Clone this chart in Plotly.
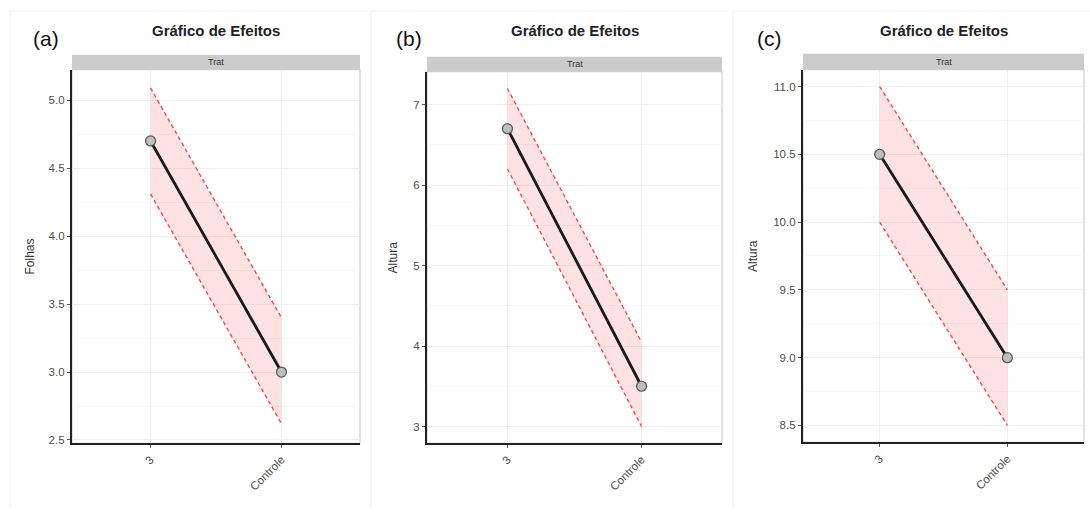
import plotly.graph_objects as go

W, H = 1090, 513

# ---- data ----
categories = ["3", "Controle"]

folhas_mean = [4.7, 3.0]
folhas_lower = [4.31, 2.62]
folhas_upper = [5.09, 3.40]

altura_b_mean = [6.7, 3.5]
altura_b_lower = [6.2, 3.0]
altura_b_upper = [7.2, 4.05]

altura_c_mean = [10.5, 9.0]
altura_c_lower = [10.0, 8.5]
altura_c_upper = [11.0, 9.5]

panel_labels = ["(a)", "(b)", "(c)"]
y_titles = ["Folhas", "Altura", "Altura"]
title_text = "Gráfico de Efeitos"
strip_text = "Trat"

y_ranges = [[2.475, 5.225], [2.79, 7.41], [8.375, 11.125]]
y_dticks = [0.5, 1.0, 0.5]
y_formats = [".1f", "d", ".1f"]

# ---- layout geometry (pixels) ----
panels = [
    dict(x0=72, x1=360, y0=70, y1=446, st=55, lab_x=46, ytitle_x=30, frame=10),
    dict(x0=427, x1=722, y0=72, y1=446, st=57, lab_x=409, ytitle_x=393, frame=371),
    dict(x0=803, x1=1084, y0=70, y1=445, st=54, lab_x=769, ytitle_x=753, frame=733),
]

def px(x):
    return x / W

def py(y):
    return 1 - y / H

series = [
    (folhas_mean, folhas_lower, folhas_upper),
    (altura_b_mean, altura_b_lower, altura_b_upper),
    (altura_c_mean, altura_c_lower, altura_c_upper),
]

fig = go.Figure()
shapes = []
annotations = []
layout_axes = {}

for i, (p, (m, lo, up)) in enumerate(zip(panels, series)):
    n = "" if i == 0 else str(i + 1)
    xa, ya = "x" + n, "y" + n
    fig.add_trace(go.Scatter(x=categories, y=up, xaxis=xa, yaxis=ya, mode="lines",
                             line=dict(color="rgba(255,40,40,0.85)", width=1.4, dash="4px,3px"),
                             showlegend=False, hoverinfo="skip"))
    fig.add_trace(go.Scatter(x=categories, y=lo, xaxis=xa, yaxis=ya, mode="lines",
                             line=dict(color="rgba(255,40,40,0.85)", width=1.4, dash="4px,3px"),
                             fill="tonexty", fillcolor="rgba(255,90,90,0.17)",
                             showlegend=False, hoverinfo="skip"))
    fig.add_trace(go.Scatter(x=categories, y=m, xaxis=xa, yaxis=ya, mode="lines+markers",
                             line=dict(color="#1a1a1a", width=2.8),
                             marker=dict(size=10, color="#bdbdbd", line=dict(color="#555555", width=1.2)),
                             showlegend=False))

    xdom = [px(p["x0"]), px(p["x1"])]
    ydom = [py(p["y1"]), py(p["y0"])]
    layout_axes["xaxis" + n] = dict(
        domain=xdom, anchor=ya, type="category", range=[-0.6, 1.6],
        showgrid=True, gridcolor="#eeeeee", gridwidth=1,
        showline=True, linecolor="#222222", linewidth=2.2,
        ticks="outside", ticklen=3, tickcolor="#555555",
        tickangle=-45, tickfont=dict(family="Liberation Sans, Arial", size=11.5, color="#4d4d4d"),
        zeroline=False, fixedrange=True,
    )
    layout_axes["yaxis" + n] = dict(
        domain=ydom, anchor=xa, range=y_ranges[i], dtick=y_dticks[i], tickformat=y_formats[i],
        showgrid=True, gridcolor="#eeeeee", gridwidth=1,
        minor=dict(dtick=y_dticks[i] / 2, showgrid=True, gridcolor="#f6f6f6", gridwidth=1),
        showline=True, linecolor="#222222", linewidth=2.2,
        ticks="outside", ticklen=3, tickcolor="#555555",
        tickfont=dict(family="Liberation Sans, Arial", size=11.5, color="#4d4d4d"),
        zeroline=False, fixedrange=True,
    )
    shapes.append(dict(type="rect", xref="paper", yref="paper",
                       x0=px(p["x0"]), x1=px(p["x1"]), y0=py(p["y1"]), y1=py(p["y0"]),
                       line=dict(color="#cfcfcf", width=1.2), layer="below"))
    shapes.append(dict(type="rect", xref="paper", yref="paper",
                       x0=px(p["x0"]), x1=px(p["x1"]), y0=py(p["y0"]), y1=py(p["st"]),
                       fillcolor="#cbcbcb", line=dict(width=0)))
    annotations.append(dict(xref="paper", yref="paper", x=px((p["x0"] + p["x1"]) / 2),
                            y=py((p["y0"] + p["st"]) / 2), text=strip_text, showarrow=False,
                            font=dict(family="Liberation Sans, Arial", size=9, color="#333333"),
                            xanchor="center", yanchor="middle"))
    annotations.append(dict(xref="paper", yref="paper", x=px((p["x0"] + p["x1"]) / 2),
                            y=py(31), text="<b>" + title_text + "</b>", showarrow=False,
                            font=dict(family="Liberation Sans, Arial", size=15, color="#222222"),
                            xanchor="center", yanchor="middle"))
    annotations.append(dict(xref="paper", yref="paper", x=px(p["lab_x"]), y=py(39),
                            text=panel_labels[i], showarrow=False,
                            font=dict(family="Liberation Sans, Arial", size=21, color="#111111"),
                            xanchor="center", yanchor="middle"))
    annotations.append(dict(xref="paper", yref="paper", x=px(p["ytitle_x"]),
                            y=py((p["y0"] + p["y1"]) / 2), text=y_titles[i], showarrow=False,
                            textangle=-90,
                            font=dict(family="Liberation Sans, Arial", size=12, color="#333333"),
                            xanchor="center", yanchor="middle"))
    shapes.append(dict(type="line", xref="paper", yref="paper", x0=px(p["frame"]), x1=px(p["frame"]),
                       y0=py(511), y1=py(11), line=dict(color="#f0f0f0", width=1), layer="below"))
    shapes.append(dict(type="line", xref="paper", yref="paper", x0=px(p["frame"]),
                       x1=px(p["frame"] + 358), y0=py(11), y1=py(11),
                       line=dict(color="#f0f0f0", width=1), layer="below"))

fig.update_layout(
    width=W, height=H, margin=dict(l=0, r=0, t=0, b=0),
    paper_bgcolor="white", plot_bgcolor="white",
    shapes=shapes, annotations=annotations, showlegend=False,
    **layout_axes,
)

fig.write_html("out.html", config={"displayModeBar": False},
               post_script="document.body.style.margin='0';document.body.style.overflow='hidden';")
